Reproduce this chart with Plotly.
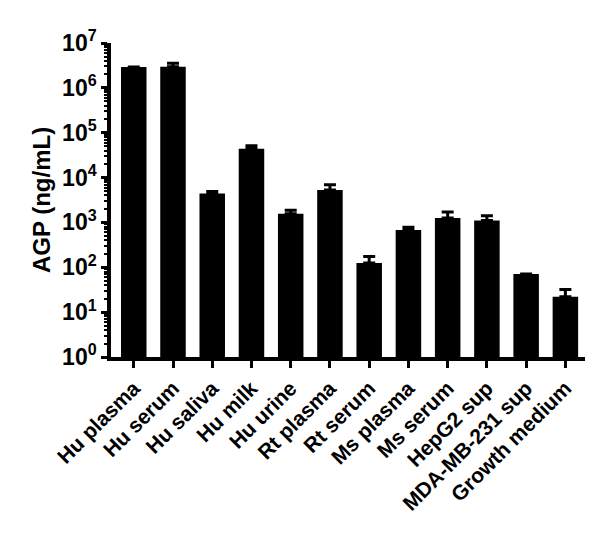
import plotly.graph_objects as go

# sample groups and AGP levels (ng/mL)
samples = ["Hu plasma", "Hu serum", "Hu saliva", "Hu milk", "Hu urine", "Rt plasma",
           "Rt serum", "Ms plasma", "Ms serum", "HepG2 sup", "MDA-MB-231 sup", "Growth medium"]
agp_mean = [2.9e6, 2.95e6, 4.4e3, 4.4e4, 1.56e3, 5.3e3, 124, 676, 1250, 1100, 70.5, 22]
agp_err = [None, 0.6e6, 500, 7000, 300, 1600, 50, 100, 450, 300, None, 10]

decades = [1, 10, 100, 1e3, 1e4, 1e5, 1e6, 1e7]
decade_labels = ["10<sup>%d</sup>" % i for i in range(8)]

font = "Arial, Liberation Sans, sans-serif"

fig = go.Figure()
fig.add_trace(go.Bar(
    x=list(range(len(samples))), y=agp_mean,
    marker=dict(color="black", line=dict(color="black", width=0)),
    error_y=dict(type="data", array=agp_err, arrayminus=[0] * len(agp_err),
                 symmetric=False, color="black", thickness=3, width=6),
))

# page has an 8px body margin, so offsets are shifted accordingly
fig.update_layout(
    width=600, height=550,
    margin=dict(l=103, r=23, t=35, b=201),
    plot_bgcolor="white", paper_bgcolor="white",
    bargap=0.35, showlegend=False,
    font=dict(family=font, color="black"),
)
fig.update_xaxes(
    range=[-0.58, 11.5],
    tickmode="array", tickvals=list(range(len(samples))), ticktext=["<b>%s</b>" % s for s in samples],
    tickangle=-45, tickfont=dict(size=21, family=font, color="black"),
    showline=True, linecolor="black", linewidth=3.5,
    ticks="outside", ticklen=7, tickwidth=2.5, tickcolor="black",
    showgrid=False, zeroline=False,
)
fig.update_yaxes(
    type="log", range=[0, 7],
    tickmode="array", tickvals=decades, ticktext=["<b>%s</b>" % t for t in decade_labels],
    tickfont=dict(size=23, family=font, color="black"),
    title=dict(text="<b>AGP (ng/mL)</b>", font=dict(size=24, family=font, color="black"), standoff=6),
    showline=True, linecolor="black", linewidth=3.5,
    ticks="outside", ticklen=6, tickwidth=2.5, tickcolor="black",
    minor=dict(ticks="outside", ticklen=3, tickwidth=1.5, tickcolor="black", dtick="D1", showgrid=False),
    showgrid=False, zeroline=False,
)

fig.write_html("out.html")
